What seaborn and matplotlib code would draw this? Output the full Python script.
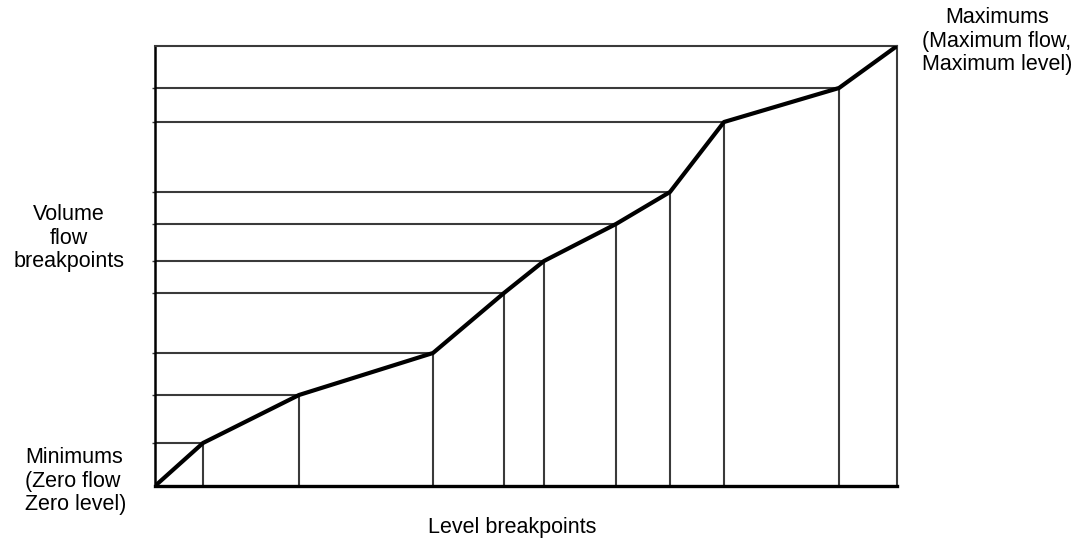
import matplotlib
matplotlib.use("Agg")
import matplotlib.pyplot as plt
import pandas as pd
import seaborn as sns

# breakpoints (level, volume flow), origin = minimums
level = [0, 48, 144, 278, 349, 389, 461, 515, 569, 684, 742]
flow = [0, 43, 91, 133, 193, 225, 262, 294, 364, 398, 440]

df = pd.DataFrame({"level": level, "flow": flow})

sns.set_style("white")
plt.rcParams["font.family"] = ["Liberation Sans", "DejaVu Sans"]
plt.rcParams["text.color"] = "black"

fig = plt.figure(figsize=(10.8, 5.38), dpi=100)
ax = fig.add_axes([155 / 1080, 52 / 538, 742 / 1080, 440 / 538])

x_max, y_max = level[-1], flow[-1]

# guide lines from each breakpoint to the axes
ax.hlines(df["flow"][1:-1], 0, df["level"][1:-1], color="#3a3a3a", lw=1.5, zorder=2)
ax.vlines(df["level"][1:-1], 0, df["flow"][1:-1], color="#3a3a3a", lw=1.5, zorder=2)

sns.lineplot(data=df, x="level", y="flow", color="black", lw=3.0, ax=ax, zorder=3)

ax.set_xlim(0, x_max)
ax.set_ylim(0, y_max)
ax.set_xticks([])
ax.set_yticks(flow[1:-1])
ax.set_yticklabels([])
ax.tick_params(axis="y", length=2, width=1.0, color="#3a3a3a", left=True)
ax.set_xlabel("")
ax.set_ylabel("")

for side in ["top", "right"]:
    ax.spines[side].set_color("#3a3a3a")
    ax.spines[side].set_linewidth(1.5)
ax.spines["left"].set_color("black")
ax.spines["left"].set_linewidth(1.8)
ax.spines["bottom"].set_color("black")
ax.spines["bottom"].set_linewidth(2.4)

fs = 15.5
fig.text(69 / 1080, 1 - 238 / 538, "Volume\nflow\nbreakpoints", ha="center", va="center",
         fontsize=fs, linespacing=1.18)
fig.text(25 / 1080, 1 - 481 / 538, "Minimums\n(Zero flow\nZero level)", ha="left", va="center",
         fontsize=fs, linespacing=1.18)
fig.text(997 / 1080, 1 - 41 / 538, "Maximums\n(Maximum flow,\nMaximum level)", ha="center",
         va="center", fontsize=fs, linespacing=1.18)
fig.text(512 / 1080, 1 - 527 / 538, "Level breakpoints", ha="center", va="center", fontsize=fs)

fig.savefig("out.png", dpi=100)
